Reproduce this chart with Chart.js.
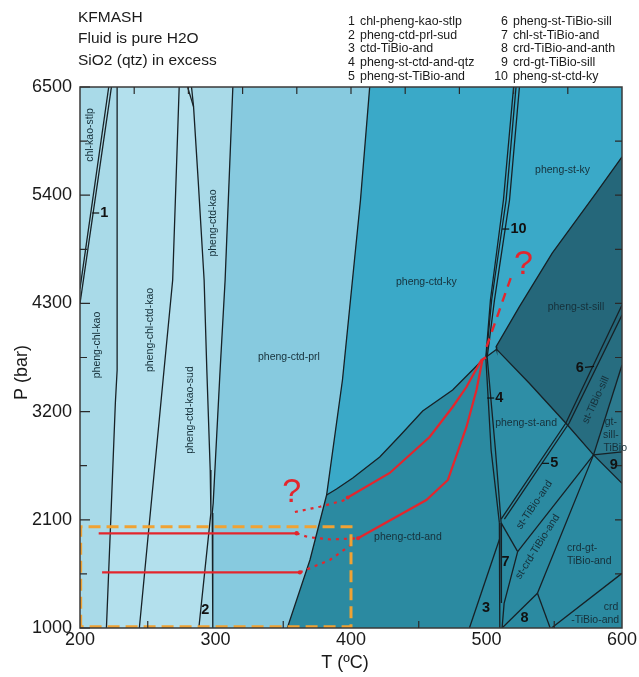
<!DOCTYPE html>
<html>
<head>
<meta charset="utf-8">
<title>KFMASH pseudosection</title>
<script src="https://cdn.jsdelivr.net/npm/chart.js@4.4.1/dist/chart.umd.min.js"></script>
<style>
  html, body { margin: 0; padding: 0; background: #fff; }
</style>
</head>
<body>
<canvas id="chart" width="639" height="677"></canvas>
<script>
// axes
const xTicks = [200, 300, 400, 500, 600];
const yTicks = [1000, 2100, 3200, 4300, 5400, 6500];
const xInnerTicks = [240, 280, 320, 360, 400, 440, 480, 520, 560];
const xBottomTicks = [250, 350, 450, 550];
const yInnerTicks = [1550, 2100, 2650, 3200, 3750, 4300, 4850, 5400, 5950];

// phase boundaries, points are [T (C), P (bar)]
const stlpUpper = [[200, 4450], [221.2, 6500]];
const stlpLower = [[200, 4300], [223.2, 6500]];
const ctdIn = [[227.4, 6500], [227.4, 3620], [226.1, 3290], [223.2, 2270], [219.5, 1000]];
const chlOut = [[273.2, 6500], [268.4, 4538], [261.3, 3521], [250.2, 1925], [243.8, 1000]];
const sudIn = [[282.3, 6500], [283.8, 6300], [287.2, 5555], [291.6, 4538], [293.6, 3623], [296.1, 2606], [296.6, 2170], [287.7, 1000]];
const sudInTop = [[279.4, 6500], [283.8, 6300]];
const prlIn = [[312.8, 6500], [307.1, 4538], [303.4, 3623], [298.3, 2271], [297.6, 2170], [298, 1000]];
const kyIn = [[413.8, 6500], [407, 5351], [393.7, 3521], [382, 2352], [369.7, 1691], [353, 1000]];
const kyAnd = [[382, 2352], [389.3, 2413], [401.3, 2525], [421.2, 2739], [435.9, 2952], [452.9, 3206], [475, 3420], [494.8, 3694], [499.5, 3752]];
const f10a = [[520, 6500], [512.5, 5351], [502.9, 4335], [499.5, 3752]];
const f10b = [[521.8, 6500], [514.5, 5351], [503.8, 4335], [499.8, 3752]];
const f10c = [[524.3, 6500], [517, 5351], [505.9, 4335], [500.5, 3752]];
const kySill = [[600, 5790], [580.7, 5419], [548.5, 4812], [524.3, 4267], [507.1, 3860], [507.5, 3833]];
const ctdOut = [[507.5, 3833], [499.5, 3752]];
const sillAnd = [[507.5, 3833], [531.6, 3488], [558.6, 3081], [579, 2760], [600, 2471]];
const f4a = [[499.5, 3752], [503.4, 2810], [509.5, 2068]];
const f4b = [[500.5, 3752], [506.6, 2810], [510.8, 2068]];
const f56a = [[600, 4284], [558.6, 3084], [510.8, 2108]];
const f56b = [[600, 4182], [561, 3084], [513.2, 2108]];
const gtIn = [[600, 3674], [579, 2760]];
const f9top = [[579, 2760], [600, 2790]];
const v7a = [[509.5, 2068], [509.8, 1000]];
const v7b = [[510.8, 2068], [511, 1254]];
const f3left = [[487.4, 1000], [509.5, 1900]];
const f7top = [[510.8, 2068], [523, 1776]];
const stCrdUpper = [[523, 1776], [579, 2760]];
const stCrdLower = [[537.6, 1353], [579, 2760]];
const stCrdLeft = [[523, 1776], [513, 1250], [511.5, 1000]];
const f8left = [[537.6, 1353], [511.5, 1000]];
const f8right = [[537.6, 1353], [547, 1000]];
const crdIn = [[548, 1000], [600, 1556]];

// small fields on the right edge
const stTiBioSill = [[600, 4182], [560.5, 3050], [579, 2760], [600, 3674]];
const gtSillTiBio = [[600, 3674], [579, 2760], [600, 2790]];
const field9 = [[579, 2760], [600, 2790], [600, 2471]];
const phengStAnd = [[499.5, 3752], [507.5, 3833], [531.6, 3488], [558.6, 3081], [510.8, 2108], [509.5, 2068], [506.6, 2810], [500.5, 3752]];

// P-T paths
const pathHighP = [[213.8, 1963], [359.9, 1963]];
const pathLowP = [[216.3, 1566], [362.3, 1566]];
const pathUpper = [[397.6, 2327], [428.6, 2576], [458, 2942], [475, 3247], [485.2, 3450], [496.2, 3725], [499.5, 3752]];
const pathLower = [[405.2, 1912], [455.6, 2301], [471.5, 2505], [485.2, 3044], [492.6, 3420], [497, 3725], [499.5, 3752]];
const dotUpper = [[358.6, 2179], [377, 2233], [394, 2294], [397.6, 2327]];
const dotMid = [[359.9, 1963], [368, 1925], [385, 1900], [405.2, 1912]];
const dotLow = [[362.3, 1566], [384.4, 1692], [393, 1776], [401.5, 1861]];
const dashTop = [[500, 3857], [518.2, 4571]];
const boxArea = [[200.5, 1012], [200.5, 2030], [400, 2030], [400, 1012], [200.5, 1012]];

// field names: text, T, P, rotation
const fieldNames = [
  ['chl-kao-stlp', 207.7, 6012, -90],
  ['pheng-chl-kao', 212.9, 3877, -90],
  ['pheng-chl-ctd-kao', 251.9, 4030, -90],
  ['pheng-ctd-kao-sud', 281.3, 3216, -90],
  ['pheng-ctd-kao', 298.3, 5117, -90],
  ['pheng-ctd-prl', 354.2, 3755, 0],
  ['pheng-ctd-ky', 455.6, 4521, 0],
  ['pheng-st-ky', 556.1, 5656, 0],
  ['pheng-st-sill', 566, 4267, 0],
  ['st-TiBio-sill', 580.7, 3318, -65],
  ['gt-', 591.8, 3097, 0],
  ['sill-', 591.8, 2962, 0],
  ['TiBio', 595, 2827, 0],
  ['pheng-st-and', 529.2, 3087, 0],
  ['st-TiBio-and', 535.3, 2251, -56],
  ['st-crd-TiBio-and', 537.7, 1827, -58],
  ['crd-gt-', 570.6, 1814, 0],
  ['TiBio-and', 575.8, 1681, 0],
  ['crd', 592, 1217, 0],
  ['-TiBio-and', 580.2, 1082, 0],
  ['pheng-ctd-and', 442, 1928, 0]
];

// numbered narrow fields: text, T, P, leader side
const fieldNumbers = [
  ['1', 218, 5219, 'L'], ['2', 292.4, 1183, ''], ['3', 499.7, 1203, ''],
  ['4', 509.5, 3338, 'L'], ['5', 550, 2674, 'L'], ['6', 568.9, 3640, 'R'],
  ['7', 514, 1674, ''], ['8', 528, 1099, ''], ['9', 594, 2657, ''],
  ['10', 523.7, 5056, 'L']
];
const questionMarks = [[527.2, 4690], [356.2, 2372]];

const titleLines = ['KFMASH', 'Fluid is pure H2O', 'SiO2 (qtz) in excess'];
const reactionsLeft = ['chl-pheng-kao-stlp', 'pheng-ctd-prl-sud', 'ctd-TiBio-and', 'pheng-st-ctd-and-qtz', 'pheng-st-TiBio-and'];
const reactionsRight = ['pheng-st-TiBio-sill', 'chl-st-TiBio-and', 'crd-TiBio-and-anth', 'crd-gt-TiBio-sill', 'pheng-st-ctd-ky'];

const FONT = '"Liberation Sans", Arial, sans-serif';
const rev = a => a.slice().reverse();
const toXY = pts => pts.map(([x, y]) => ({ x, y }));

const fields = [
  { pts: [[200, 1000], [600, 1000], [600, 6500], [200, 6500]], color: '#2b8aa1' },
  { pts: [[200, 6500], ...prlIn, [200, 1000]], color: '#a9dae8' },
  { pts: [...ctdIn, ...rev(sudIn)], color: '#b3e0ed' },
  { pts: [...prlIn, ...rev(kyIn)], color: '#87cadf' },
  { pts: [[600, 6500], ...kySill, ...rev(kyAnd), ...rev(kyIn.slice(0, 4))], color: '#3aa9c8' },
  { pts: phengStAnd, color: '#2e8ea6' },
  { pts: [...kySill, ...sillAnd.slice(1)], color: '#25677a' },
  { pts: stTiBioSill, color: '#276d80' },
  { pts: gtSillTiBio, color: '#2c7a8e' },
  { pts: field9, color: '#297286' }
];

const boundaries = [
  stlpUpper, stlpLower, ctdIn, chlOut, sudIn, sudInTop, prlIn, kyIn, kyAnd,
  f10a, f10b, f10c, kySill, ctdOut, sillAnd, f4a, f4b, f56a, f56b, gtIn, f9top,
  v7a, v7b, f3left, f7top, stCrdUpper, stCrdLower, stCrdLeft, f8left, f8right, crdIn
];

const datasets = [];
fields.forEach(f => datasets.push({
  data: toXY(f.pts), fill: 'shape', backgroundColor: f.color, borderWidth: 0, pointRadius: 0
}));
boundaries.forEach(b => datasets.push({
  data: toXY(b), fill: false, borderColor: '#172126', borderWidth: 1.3, pointRadius: 0
}));

const RED = '#e3262d';
[pathHighP, pathLowP].forEach(p => datasets.push({
  data: toXY(p), fill: false, borderColor: RED, borderWidth: 2.2,
  pointRadius: [0, 2.2], pointBackgroundColor: RED, pointBorderWidth: 0
}));
[pathUpper, pathLower].forEach(p => datasets.push({
  data: toXY(p), fill: false, borderColor: RED, borderWidth: 2.2,
  pointRadius: p.map((_, i) => (i === 0 ? 2 : 0)), pointBackgroundColor: RED, pointBorderWidth: 0
}));
[dotUpper, dotMid, dotLow].forEach(p => datasets.push({
  data: toXY(p), fill: false, borderColor: RED, borderWidth: 2.2, borderDash: [3, 5], pointRadius: 0
}));
datasets.push({ data: toXY(dashTop), fill: false, borderColor: RED, borderWidth: 2.4, borderDash: [9, 7], pointRadius: 0 });
datasets.push({ data: toXY(boxArea), fill: false, borderColor: '#f0a233', borderWidth: 3, borderDash: [12, 6], pointRadius: 0 });

// later datasets are drawn on top
datasets.forEach((d, i) => { d.order = -i; d.tension = 0; });

function drawText(ctx, str, px, py, font, color, rot, align) {
  ctx.save();
  ctx.translate(px, py);
  if (rot) ctx.rotate(rot * Math.PI / 180);
  ctx.font = font;
  ctx.fillStyle = color;
  ctx.textAlign = align || 'center';
  ctx.textBaseline = 'middle';
  ctx.fillText(str, 0, 0);
  ctx.restore();
}

const overlay = {
  id: 'overlay',
  afterDatasetsDraw(chart) {
    const { ctx, chartArea: a, scales: { x, y } } = chart;

    // frame
    ctx.save();
    ctx.strokeStyle = '#3a3a3a';
    ctx.lineWidth = 1.5;
    ctx.strokeRect(a.left, a.top, a.right - a.left, a.bottom - a.top);

    // inward ticks
    ctx.lineWidth = 1.2;
    ctx.strokeStyle = '#2a2a2a';
    ctx.beginPath();
    yTicks.concat(yInnerTicks).forEach(v => {
      const py = y.getPixelForValue(v);
      const len = yTicks.includes(v) ? 10 : 7;
      ctx.moveTo(a.left, py); ctx.lineTo(a.left + len, py);
    });
    yInnerTicks.forEach(v => {
      const py = y.getPixelForValue(v);
      ctx.moveTo(a.right, py); ctx.lineTo(a.right - 7, py);
    });
    xInnerTicks.forEach(v => {
      const px = x.getPixelForValue(v);
      ctx.moveTo(px, a.top); ctx.lineTo(px, a.top + 7);
    });
    xBottomTicks.forEach(v => {
      const px = x.getPixelForValue(v);
      ctx.moveTo(px, a.bottom); ctx.lineTo(px, a.bottom - 7);
    });
    ctx.stroke();
    ctx.restore();

    fieldNames.forEach(([t, T, P, rot]) => {
      drawText(ctx, t, x.getPixelForValue(T), y.getPixelForValue(P), '10.5px ' + FONT, '#16303a', rot);
    });

    fieldNumbers.forEach(([t, T, P, side]) => {
      const px = x.getPixelForValue(T), py = y.getPixelForValue(P);
      drawText(ctx, t, px, py, 'bold 14.5px ' + FONT, '#111', 0);
      if (side) {
        const w = t.length * 4.2;
        ctx.save();
        ctx.strokeStyle = '#111';
        ctx.lineWidth = 1.2;
        ctx.beginPath();
        if (side === 'L') { ctx.moveTo(px - w - 8, py); ctx.lineTo(px - w - 1, py); }
        else { ctx.moveTo(px + w + 1, py - 1); ctx.lineTo(px + w + 10, py - 2); }
        ctx.stroke();
        ctx.restore();
      }
    });

    questionMarks.forEach(([T, P]) => {
      drawText(ctx, '?', x.getPixelForValue(T), y.getPixelForValue(P), '34px ' + FONT, RED, 0);
    });
  },
  afterDraw(chart) {
    const { ctx, chartArea: a } = chart;
    titleLines.forEach((t, i) => drawText(ctx, t, 78, 17.5 + i * 21.5, '15.5px ' + FONT, '#1a1a1a', 0, 'left'));
    const rowY = i => 21.8 + i * 13.6;
    reactionsLeft.forEach((t, i) => {
      drawText(ctx, String(i + 1), 355, rowY(i), '12.4px ' + FONT, '#1a1a1a', 0, 'right');
      drawText(ctx, t, 360, rowY(i), '12.4px ' + FONT, '#1a1a1a', 0, 'left');
    });
    reactionsRight.forEach((t, i) => {
      drawText(ctx, String(i + 6), 508, rowY(i), '12.4px ' + FONT, '#1a1a1a', 0, 'right');
      drawText(ctx, t, 513, rowY(i), '12.4px ' + FONT, '#1a1a1a', 0, 'left');
    });
    drawText(ctx, 'P (bar)', 22, (a.top + a.bottom) / 2 + 15, '18px ' + FONT, '#1a1a1a', -90);
    drawText(ctx, 'T (ºC)', 345, 663, '18px ' + FONT, '#1a1a1a', 0);
  }
};

new Chart(document.getElementById('chart'), {
  type: 'line',
  data: { datasets },
  options: {
    responsive: false,
    animation: false,
    events: [],
    layout: { padding: { left: 0, right: 17, top: 87, bottom: 0 } },
    plugins: { legend: { display: false }, tooltip: { enabled: false }, title: { display: false } },
    scales: {
      x: {
        type: 'linear', min: 200, max: 600,
        grid: { display: false, drawTicks: false }, border: { display: false },
        afterBuildTicks: s => { s.ticks = xTicks.map(v => ({ value: v })); },
        afterFit: s => { s.height = 49; },
        ticks: { padding: 1, maxRotation: 0, autoSkip: false, color: '#1a1a1a', font: { family: FONT, size: 18 }, callback: v => String(v) }
      },
      y: {
        type: 'linear', min: 1000, max: 6500,
        grid: { display: false, drawTicks: false }, border: { display: false },
        afterBuildTicks: s => { s.ticks = yTicks.map(v => ({ value: v })); },
        afterFit: s => { s.width = 80; },
        ticks: { padding: 8, autoSkip: false, color: '#1a1a1a', font: { family: FONT, size: 18 }, callback: v => String(v) }
      }
    }
  },
  plugins: [overlay]
});
</script>
</body>
</html>
